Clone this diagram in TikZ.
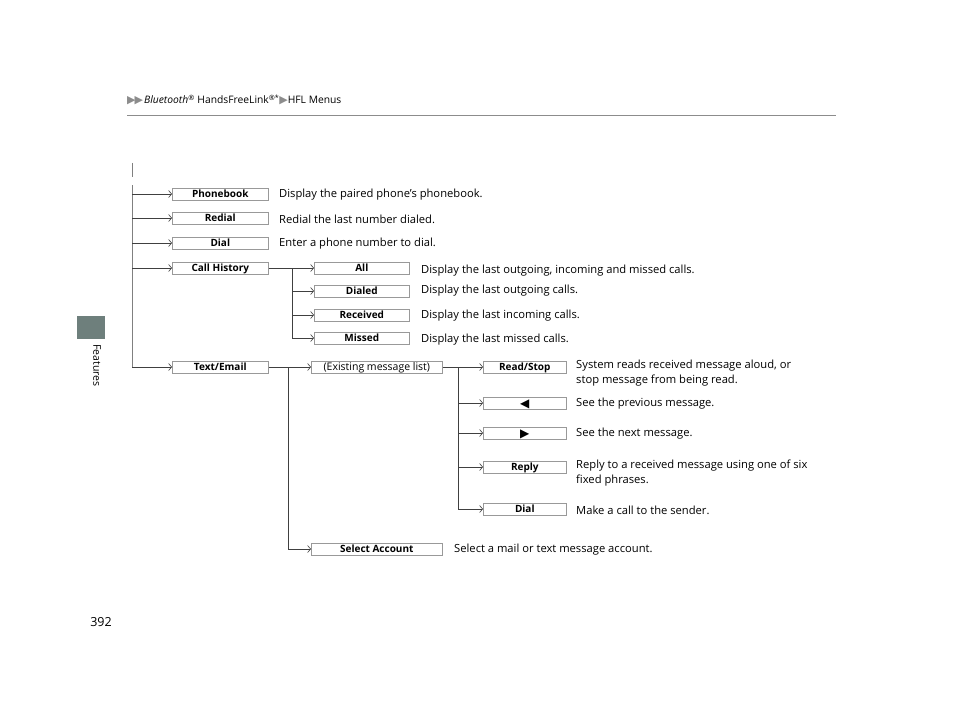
\documentclass[tikz,border=0pt]{standalone}
\usepackage{fontspec}
\setmainfont{Open Sans}
\newfontfamily\symfont{DejaVu Sans}
\usetikzlibrary{arrows.meta,positioning,calc}
\definecolor{tabgrey}{HTML}{6E7F7C}
\definecolor{hdrgrey}{HTML}{8C8C8C}
\definecolor{linegrey}{HTML}{404040}

\begin{document}
\begin{tikzpicture}[x=1pt,y=-1pt,
    menu/.style={draw=gray!80, line width=0.6pt, fill=white, anchor=west,
        minimum height=12pt, inner sep=0pt, text height=7.5pt, text depth=0pt,
        font=\fontsize{10}{10}\selectfont\bfseries},
    desc/.style={anchor=west, inner sep=0pt, align=left,
        font=\fontsize{11.2}{15}\selectfont},
    link/.style={draw=linegrey, line width=0.6pt},
    arr/.style={link, -{Straight Barb[length=3pt,width=7pt]}}]
    \useasboundingbox (0,0) rectangle (960,722);

    % Kopfzeile
    \node[anchor=base west, inner sep=0pt, font=\fontsize{10.3}{10.3}\selectfont] (hdr) at (127,104)
        {{\color{hdrgrey}\symfont\fontsize{11}{11}\selectfont ▶\kern-1pt▶}\kern1pt\textit{Bluetooth}\textsuperscript{®} HandsFreeLink\textsuperscript{®*}{\color{hdrgrey}\symfont\fontsize{11}{11}\selectfont ▶}HFL Menus};
    \draw[hdrgrey, line width=1pt] (127,116) -- (836,116);

    % Register
    \fill[tabgrey] (77,316) rectangle (105,339);
    \node[rotate=-90, anchor=west, inner sep=0pt, font=\fontsize{10.5}{10.5}\selectfont] (tab) at (97,344) {Features};
    \node[font=\fontsize{12.5}{12.5}\selectfont] (page) at (101,622) {392};

    % Hauptmenue
    \draw[gray, line width=1pt] (132,163) -- (132,177);
    \coordinate (top) at (132,185);
    \node[menu, minimum width=96pt] (pb) at (172,194) {Phonebook};
    \node[menu, minimum width=96pt] (rd) at (172,218) {Redial};
    \node[menu, minimum width=96pt] (dl) at (172,243) {Dial};
    \node[menu, minimum width=96pt] (ch) at (172,268) {Call History};
    \node[menu, minimum width=96pt] (te) at (172,367) {Text/Email};
    \draw[gray, line width=1pt] (top) -- (te.west -| top);
    \draw[arr] (pb.west -| top) -- (pb.west);
    \draw[arr] (rd.west -| top) -- (rd.west);
    \draw[arr] (dl.west -| top) -- (dl.west);
    \draw[arr] (ch.west -| top) -- (ch.west);
    \draw[arr] (te.west -| top) -- (te.west);

    \node[desc] (pbd) at (279,195) {Display the paired phone’s phonebook.};
    \node[desc] (rdd) at (279,219) {Redial the last number dialed.};
    \node[desc] (dld) at (279,244) {Enter a phone number to dial.};

    % Anrufliste
    \node[menu, minimum width=95pt] (all) at (314,268) {All};
    \node[menu, minimum width=95pt] (dlt) at (314,291) {Dialed};
    \node[menu, minimum width=95pt] (rcv) at (314,315) {Received};
    \node[menu, minimum width=95pt] (mis) at (314,338) {Missed};
    \coordinate (chj) at (292,268);
    \draw[arr] (ch.east) -- (all.west);
    \draw[arr] (chj) |- (mis.west);
    \draw[arr] (dlt.west -| chj) -- (dlt.west);
    \draw[arr] (rcv.west -| chj) -- (rcv.west);

    \node[desc] (alld) at (421,271) {Display the last outgoing, incoming and missed calls.};
    \node[desc] (dltd) at (421,291) {Display the last outgoing calls.};
    \node[desc] (rcvd) at (421,316) {Display the last incoming calls.};
    \node[desc] (misd) at (421,340) {Display the last missed calls.};

    % Text/Email
    \node[menu, minimum width=131pt, font=\fontsize{10.5}{10.5}\selectfont] (ex) at (311,367) {(Existing message list)};
    \node[menu, minimum width=131pt] (sa) at (311,549) {Select Account};
    \coordinate (tej) at (288,367);
    \draw[arr] (te.east) -- (ex.west);
    \draw[arr] (tej) |- (sa.west);
    \node[desc] (sad) at (454,550) {Select a mail or text message account.};

    % Nachrichten
    \node[menu, minimum width=83pt] (rs) at (483,367) {Read/Stop};
    \node[menu, minimum width=83pt, text height=8pt, font=\symfont\fontsize{12}{12}\selectfont] (prv) at (483,403) {◀};
    \node[menu, minimum width=83pt, text height=8pt, font=\symfont\fontsize{12}{12}\selectfont] (nxt) at (483,433) {▶};
    \node[menu, minimum width=83pt] (rp) at (483,467) {Reply};
    \node[menu, minimum width=83pt] (snd) at (483,509) {Dial};
    \coordinate (exj) at (458,367);
    \draw[arr] (ex.east) -- (rs.west);
    \draw[arr] (exj) |- (snd.west);
    \draw[arr] (prv.west -| exj) -- (prv.west);
    \draw[arr] (nxt.west -| exj) -- (nxt.west);
    \draw[arr] (rp.west -| exj) -- (rp.west);

    \node[desc, anchor=north west] (rsd) at (576,360) {System reads received message aloud, or\\stop message from being read.};
    \node[desc] (prvd) at (576,404) {See the previous message.};
    \node[desc] (nxtd) at (576,434) {See the next message.};
    \node[desc, anchor=north west] (rpd) at (576,460) {Reply to a received message using one of six\\fixed phrases.};
    \node[desc] (sndd) at (576,510) {Make a call to the sender.};
\end{tikzpicture}
\end{document}
